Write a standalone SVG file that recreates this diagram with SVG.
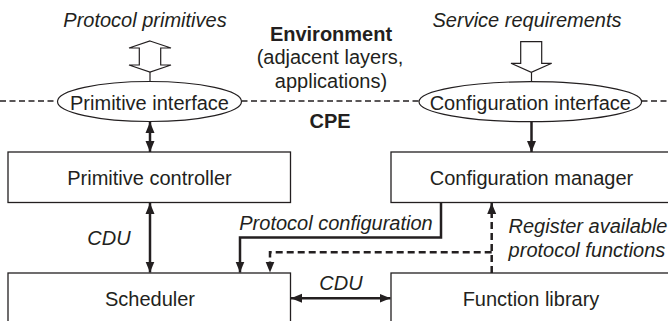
<svg xmlns="http://www.w3.org/2000/svg" width="668" height="321" viewBox="0 0 668 321">
<style>
text{font-family:"Liberation Sans",Arial,sans-serif;font-size:20px;fill:#231f20;text-anchor:middle}
.it{font-style:italic}
.b{font-weight:bold}
.box{fill:#fff;stroke:#231f20;stroke-width:1.3}
.hollow{fill:#fff;stroke:#231f20;stroke-width:1.2}
.bnd{fill:none;stroke:#231f20;stroke-width:1.5;stroke-dasharray:6,3.5}
.c{fill:none;stroke:#231f20;stroke-width:2.5}
.d{fill:none;stroke:#231f20;stroke-width:2.5;stroke-dasharray:7,4}
.thin{fill:none;stroke:#231f20;stroke-width:1.2}
</style>
<defs>
<marker id="ah" markerUnits="userSpaceOnUse" markerWidth="12" markerHeight="12" viewBox="0 0 12 12" refX="11" refY="6" orient="auto-start-reverse">
<path d="M0,1.5 L11,6 L0,10.5 Z" fill="#231f20"/>
</marker>
</defs>
<rect width="668" height="321" fill="#fff"/>

<g id="boundary">
<path class="bnd" d="M0,101 H57.5 M241.5,101 H419 M641.5,101 H668"/>
</g>

<g id="environment">
<text class="b" x="331" y="41">Environment</text>
<text x="330" y="64">(adjacent layers,</text>
<text x="331" y="88">applications)</text>
</g>
<g id="cpe"><text class="b" x="330" y="128">CPE</text></g>

<g id="protocol-primitives">
<text class="it" x="145" y="27">Protocol primitives</text>
<polygon class="hollow" points="150,41 171,48 160.7,48 160.7,65 171,65 150,72 129,65 139.3,65 139.3,48 129,48"/>
<line class="thin" x1="150" y1="72" x2="150" y2="82"/>
</g>

<g id="service-requirements">
<text class="it" x="527" y="27">Service requirements</text>
<polygon class="hollow" points="520.7,41.7 541.7,41.7 541.7,63.3 551.7,63.3 531.3,72.3 511,63.3 520.7,63.3"/>
<line class="thin" x1="531.5" y1="72.3" x2="531.5" y2="81.7"/>
</g>

<g id="primitive-interface">
<ellipse cx="149.5" cy="101.5" rx="92" ry="20" fill="#fff" stroke="#231f20" stroke-width="1.2"/>
<text x="149.5" y="110">Primitive interface</text>
</g>
<g id="configuration-interface">
<ellipse cx="530.3" cy="101.7" rx="111.3" ry="20" fill="#fff" stroke="#231f20" stroke-width="1.2"/>
<text x="530.3" y="110">Configuration interface</text>
</g>

<g id="primitive-controller">
<rect class="box" x="8" y="152" width="282.5" height="50.5"/>
<text x="149.5" y="185">Primitive controller</text>
</g>
<g id="configuration-manager">
<rect class="box" x="391" y="152" width="290" height="50.5"/>
<text x="531.5" y="185">Configuration manager</text>
</g>
<g id="scheduler">
<rect class="box" x="8" y="273" width="282.5" height="60"/>
<text x="150" y="306">Scheduler</text>
</g>
<g id="function-library">
<rect class="box" x="391" y="273" width="290" height="60"/>
<text x="531" y="306">Function library</text>
</g>

<g id="connectors">
<line class="c" x1="150" y1="122" x2="150" y2="152" marker-start="url(#ah)" marker-end="url(#ah)"/>
<line class="c" x1="150" y1="203" x2="150" y2="272.5" marker-start="url(#ah)" marker-end="url(#ah)"/>
<line class="c" x1="531.5" y1="122" x2="531.5" y2="152" marker-end="url(#ah)"/>
<path class="c" d="M441,202.5 V237.5 H240 V272.5" marker-end="url(#ah)"/>
<path class="d" d="M491.7,273 V203" marker-end="url(#ah)"/>
<path class="d" d="M491.7,252.3 H270 V272.5" marker-end="url(#ah)"/>
<line class="c" x1="291" y1="298.3" x2="390.5" y2="298.3" marker-start="url(#ah)" marker-end="url(#ah)"/>
<text class="it" x="109" y="245">CDU</text>
<text class="it" x="341" y="290">CDU</text>
<text class="it" x="336" y="230">Protocol configuration</text>
<text class="it" x="588" y="233">Register available</text>
<text class="it" x="587" y="257">protocol functions</text>
</g>
</svg>
